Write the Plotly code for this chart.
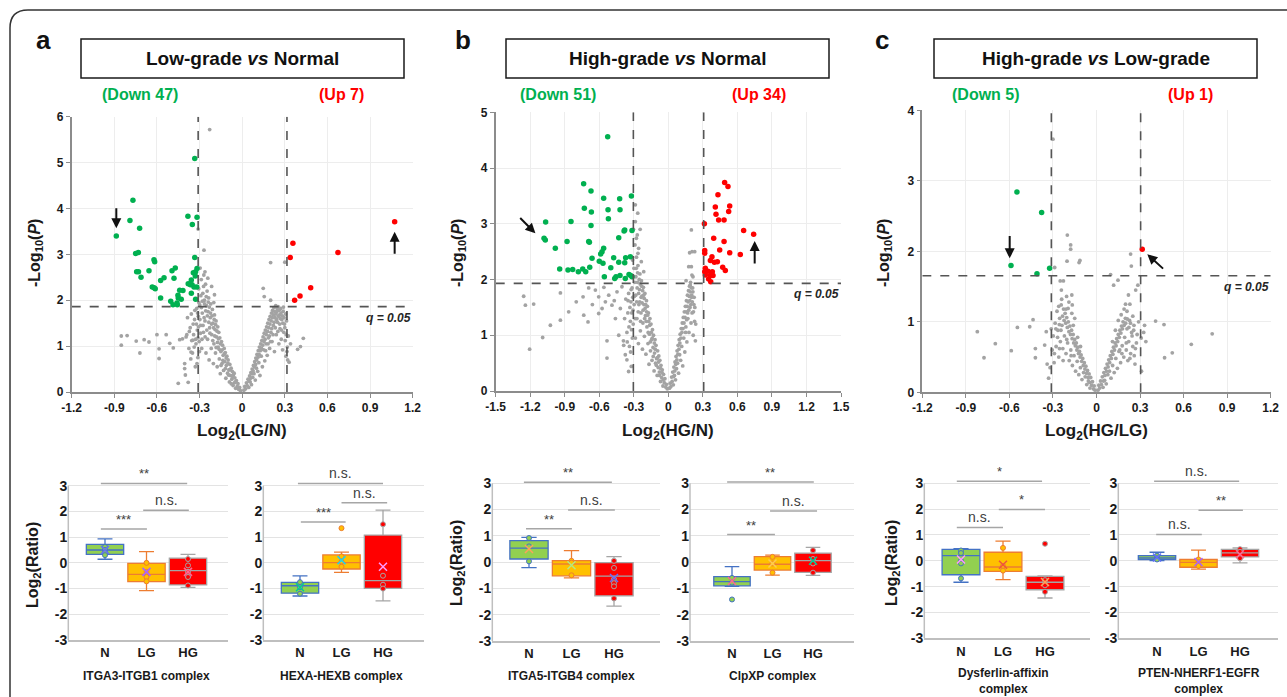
import plotly.graph_objects as go

W, H = 1287, 697
FONT = "Liberation Sans, Arial, sans-serif"
GREEN, RED, GREY = "#00b050", "#ff0000", "#a3a3a3"

# ---------------- volcano data: (log2 ratio, -log10 P) ----------------
down_a = [(-0.886, 3.40), (-0.769, 4.18), (-0.790, 3.74), (-0.722, 3.57), (-0.750, 3.02),
          (-0.731, 3.04), (-0.743, 2.62), (-0.712, 2.50), (-0.656, 2.64), (-0.621, 2.88),
          (-0.616, 2.84), (-0.633, 2.29), (-0.612, 2.25), (-0.574, 2.43), (-0.550, 2.49),
          (-0.574, 2.05), (-0.494, 2.64), (-0.471, 2.70), (-0.480, 2.48), (-0.503, 1.98),
          (-0.487, 1.90), (-0.457, 1.90), (-0.452, 2.11), (-0.440, 2.22), (-0.417, 2.21),
          (-0.459, 1.94), (-0.382, 3.83), (-0.351, 3.65), (-0.318, 3.81), (-0.334, 5.09),
          (-0.334, 2.93), (-0.344, 2.60), (-0.328, 2.62), (-0.358, 2.44), (-0.353, 2.34),
          (-0.339, 2.29), (-0.320, 2.29), (-0.358, 2.15), (-0.328, 2.02), (-0.429, 2.02),
          (-0.365, 2.34), (-0.318, 2.69), (-0.330, 2.53), (-0.620, 2.27), (-0.380, 2.36),
          (-0.450, 2.05), (-0.730, 2.62)]
up_a = [(0.357, 3.24), (0.338, 2.93), (0.674, 3.04), (1.073, 3.71), (0.482, 2.27),
        (0.407, 2.09), (0.369, 2.00)]
grey_a = [(-0.012, 0.03), (-0.018, 0.10), (-0.025, 0.06), (-0.030, 0.18), (-0.035, 0.12),
          (-0.041, 0.25), (-0.046, 0.08), (-0.052, 0.31), (-0.055, 0.20), (-0.061, 0.38),
          (-0.064, 0.14), (-0.070, 0.45), (-0.073, 0.28), (-0.078, 0.52), (-0.082, 0.36),
          (-0.087, 0.60), (-0.090, 0.22), (-0.094, 0.48), (-0.099, 0.70), (-0.103, 0.41),
          (-0.108, 0.78), (-0.112, 0.58), (-0.115, 0.30), (-0.119, 0.86), (-0.123, 0.66),
          (-0.127, 0.95), (-0.131, 0.47), (-0.134, 0.80), (-0.138, 1.02), (-0.142, 0.62),
          (-0.146, 1.10), (-0.150, 0.88), (-0.154, 0.40), (-0.158, 1.18), (-0.161, 0.72),
          (-0.165, 1.30), (-0.169, 0.98), (-0.172, 1.42), (-0.176, 0.55), (-0.180, 1.20),
          (-0.184, 1.55), (-0.188, 0.85), (-0.191, 1.36), (-0.195, 1.68), (-0.199, 1.05),
          (-0.203, 0.62), (-0.206, 1.50), (-0.210, 1.80), (-0.214, 1.25), (-0.218, 0.95),
          (-0.221, 1.92), (-0.225, 1.62), (-0.229, 1.40), (-0.233, 0.70), (-0.236, 2.05),
          (-0.240, 1.75), (-0.244, 1.15), (-0.247, 2.20), (-0.251, 1.88), (-0.255, 0.85),
          (-0.258, 2.35), (-0.262, 1.55), (-0.266, 2.00), (-0.270, 2.55), (-0.273, 1.30),
          (-0.277, 2.15), (-0.281, 1.72), (-0.285, 0.95), (-0.288, 2.45), (-0.292, 1.45),
          (-0.296, 2.70), (-0.299, 1.90), (-0.303, 1.10), (-0.306, 2.25), (-0.309, 1.65),
          (-0.312, 0.75), (-0.316, 1.35), (-0.320, 1.82), (-0.325, 1.05), (-0.330, 0.55),
          (-0.335, 1.58), (-0.342, 1.25), (-0.350, 0.85), (-0.358, 1.70), (-0.366, 1.40),
          (-0.375, 0.95), (-0.385, 1.62), (-0.395, 1.20), (-0.215, 2.30), (-0.195, 2.12),
          (-0.262, 2.62), (-0.242, 2.48), (-0.200, 1.95),
          (-0.048, 0.22), (-0.057, 0.41), (-0.066, 0.33), (-0.077, 0.18), (-0.085, 0.49),
          (-0.096, 0.37), (-0.101, 0.63), (-0.113, 0.74), (-0.118, 0.51), (-0.126, 0.83),
          (-0.136, 0.69), (-0.141, 0.92), (-0.149, 0.58), (-0.153, 1.05), (-0.162, 0.93),
          (-0.167, 1.16), (-0.174, 1.08), (-0.178, 1.33), (-0.183, 0.97), (-0.187, 1.47),
          (-0.193, 1.22), (-0.197, 1.58), (-0.201, 1.40), (-0.207, 1.12), (-0.212, 1.66),
          (-0.216, 1.48), (-0.223, 1.72), (-0.227, 1.28), (-0.231, 1.85), (-0.235, 1.52),
          (-0.239, 1.96), (-0.245, 1.66), (-0.249, 1.35), (-0.253, 2.08), (-0.257, 1.77),
          (-0.261, 1.20), (-0.265, 1.92), (-0.268, 1.62), (-0.272, 2.30), (-0.276, 1.45),
          (-0.280, 1.98), (-0.283, 1.15), (-0.287, 1.84), (-0.291, 2.10), (-0.294, 1.28),
          (-0.298, 1.58), (-0.301, 0.88), (-0.305, 1.95), (-0.308, 1.42), (-0.311, 1.18),
          (-0.314, 1.72), (-0.318, 0.62), (-0.322, 1.48), (-0.327, 1.15), (-0.333, 1.78),
          (-0.338, 0.98), (-0.345, 1.48), (-0.355, 1.12), (-0.362, 0.72), (-0.372, 1.32),
          (0.012, 0.04), (0.018, 0.12), (0.024, 0.07), (0.030, 0.20), (0.035, 0.14),
          (0.041, 0.28), (0.046, 0.10), (0.052, 0.35), (0.056, 0.22), (0.061, 0.42),
          (0.065, 0.16), (0.070, 0.50), (0.074, 0.32), (0.079, 0.58), (0.083, 0.40),
          (0.088, 0.66), (0.092, 0.26), (0.096, 0.74), (0.100, 0.52), (0.104, 0.82),
          (0.109, 0.45), (0.113, 0.90), (0.117, 0.64), (0.121, 0.98), (0.125, 0.36),
          (0.130, 1.05), (0.134, 0.78), (0.138, 1.12), (0.142, 0.55), (0.147, 1.20),
          (0.151, 0.92), (0.155, 1.28), (0.159, 0.68), (0.163, 1.35), (0.168, 1.05),
          (0.172, 1.42), (0.176, 0.80), (0.180, 1.50), (0.185, 1.18), (0.189, 1.58),
          (0.193, 0.95), (0.197, 1.65), (0.202, 1.30), (0.206, 1.72), (0.210, 1.10),
          (0.214, 1.78), (0.219, 1.45), (0.223, 1.84), (0.227, 0.88), (0.231, 1.62),
          (0.236, 1.88), (0.240, 1.25), (0.244, 1.75), (0.249, 1.52), (0.253, 1.86),
          (0.258, 1.05), (0.262, 1.68), (0.266, 1.38), (0.270, 1.82), (0.275, 1.15),
          (0.279, 1.58), (0.284, 0.92), (0.288, 1.76), (0.293, 1.30), (0.298, 1.48),
          (0.303, 1.12), (0.308, 0.78), (0.312, 1.55), (0.318, 0.98), (0.325, 1.22),
          (0.330, 0.65), (0.340, 1.05), (0.148, 2.26), (0.155, 2.08), (0.200, 2.82),
          (0.300, 2.83), (0.410, 0.99), (0.430, 1.17), (0.390, 0.93), (0.320, 0.70),
          (0.200, 2.00),
          (0.047, 0.24), (0.058, 0.30), (0.068, 0.40), (0.077, 0.46), (0.086, 0.55),
          (0.094, 0.60), (0.102, 0.70), (0.111, 0.76), (0.119, 0.82), (0.127, 0.90),
          (0.136, 0.95), (0.144, 1.02), (0.153, 1.10), (0.161, 1.15), (0.165, 0.90),
          (0.170, 1.25), (0.178, 1.32), (0.182, 1.05), (0.187, 1.40), (0.191, 1.22),
          (0.195, 1.48), (0.200, 1.10), (0.204, 1.55), (0.208, 1.38), (0.212, 1.62),
          (0.217, 1.25), (0.221, 1.68), (0.225, 1.52), (0.229, 1.75), (0.233, 1.40),
          (0.238, 1.70), (0.242, 1.58), (0.246, 1.82), (0.251, 1.32), (0.255, 1.65),
          (0.260, 1.78), (0.264, 1.48), (0.268, 1.60), (0.273, 1.72), (0.277, 1.35),
          (0.282, 1.66), (0.286, 1.50), (0.290, 1.85), (0.295, 1.62), (0.300, 1.40),
          (0.305, 1.70), (0.310, 1.25), (0.315, 0.88),
          (-0.851, 1.22), (-0.810, 1.23), (-0.851, 1.02), (-0.746, 1.11), (-0.690, 1.14),
          (-0.720, 0.85), (-0.656, 1.09), (-0.600, 1.25), (-0.585, 0.94), (-0.585, 0.73),
          (-0.510, 1.06), (-0.485, 0.96), (-0.535, 1.25), (-0.440, 1.14), (-0.420, 1.16),
          (-0.390, 1.25), (-0.405, 0.62), (-0.405, 0.51), (-0.400, 0.37), (-0.450, 0.19),
          (-0.347, 1.13), (-0.360, 0.87), (-0.380, 0.21), (-0.229, 5.72), (-0.269, 3.09),
          (-0.310, 3.55)]

down_b = [(-0.527, 4.56), (-0.736, 3.72), (-0.672, 3.59), (-0.562, 3.46), (-0.423, 3.45),
          (-0.321, 3.50), (-0.730, 3.28), (-0.669, 3.21), (-0.524, 3.25), (-0.420, 3.25),
          (-0.521, 3.09), (-1.066, 3.03), (-0.846, 3.04), (-0.672, 2.97), (-0.385, 2.87),
          (-0.379, 2.89), (-0.316, 2.88), (-0.431, 2.75), (-1.080, 2.74), (-1.069, 2.71),
          (-0.880, 2.68), (-0.692, 2.68), (-0.686, 2.67), (-0.982, 2.56), (-0.562, 2.56),
          (-0.576, 2.50), (-0.588, 2.46), (-0.663, 2.38), (-0.475, 2.39), (-0.431, 2.31),
          (-0.379, 2.30), (-0.371, 2.39), (-0.330, 2.41), (-0.568, 2.29), (-0.944, 2.19),
          (-0.872, 2.17), (-0.831, 2.18), (-0.782, 2.14), (-0.744, 2.19), (-0.718, 2.14),
          (-0.683, 2.22), (-0.556, 2.05), (-0.466, 2.02), (-0.455, 2.05), (-0.420, 2.07),
          (-0.374, 2.02), (-0.342, 2.09), (-0.327, 2.07), (-0.316, 2.05), (-0.600, 2.33),
          (-0.500, 2.21)]
up_b = [(0.489, 3.74), (0.518, 3.67), (0.431, 3.52), (0.408, 3.30), (0.533, 3.32),
        (0.524, 3.22), (0.414, 3.17), (0.437, 3.07), (0.484, 3.07), (0.313, 3.00),
        (0.654, 2.88), (0.741, 2.81), (0.394, 2.74), (0.484, 2.68), (0.446, 2.53),
        (0.533, 2.48), (0.625, 2.45), (0.316, 2.52), (0.316, 2.47), (0.379, 2.41),
        (0.365, 2.34), (0.400, 2.31), (0.426, 2.32), (0.321, 2.20), (0.316, 2.14),
        (0.344, 2.15), (0.382, 2.14), (0.472, 2.22), (0.495, 2.16), (0.365, 2.07),
        (0.388, 2.07), (0.350, 2.01), (0.368, 1.96), (0.321, 2.08)]
grey_b = [(-0.010, 0.04), (-0.017, 0.12), (-0.023, 0.07), (-0.030, 0.22), (-0.036, 0.15),
          (-0.042, 0.30), (-0.047, 0.09), (-0.053, 0.38), (-0.058, 0.24), (-0.064, 0.46),
          (-0.068, 0.17), (-0.074, 0.55), (-0.078, 0.34), (-0.083, 0.63), (-0.088, 0.42),
          (-0.093, 0.72), (-0.097, 0.28), (-0.102, 0.58), (-0.107, 0.82), (-0.111, 0.50),
          (-0.116, 0.92), (-0.120, 0.68), (-0.124, 0.36), (-0.129, 1.00), (-0.133, 0.78),
          (-0.138, 1.10), (-0.142, 0.55), (-0.146, 0.92), (-0.151, 1.20), (-0.155, 0.72),
          (-0.160, 1.30), (-0.164, 1.02), (-0.168, 0.48), (-0.173, 1.40), (-0.177, 0.85),
          (-0.182, 1.52), (-0.186, 1.15), (-0.190, 1.62), (-0.195, 0.66), (-0.199, 1.35),
          (-0.204, 1.75), (-0.208, 0.98), (-0.212, 1.55), (-0.217, 1.86), (-0.221, 1.22),
          (-0.225, 0.75), (-0.230, 1.70), (-0.234, 1.98), (-0.238, 1.40), (-0.243, 1.08),
          (-0.247, 2.10), (-0.251, 1.82), (-0.256, 1.55), (-0.260, 0.85), (-0.264, 2.25),
          (-0.269, 1.95), (-0.273, 1.30), (-0.277, 2.40), (-0.282, 2.05), (-0.286, 0.95),
          (-0.290, 2.62), (-0.295, 1.70), (-0.299, 2.20), (-0.303, 2.90), (-0.307, 1.45),
          (-0.311, 2.35), (-0.315, 1.85), (-0.320, 1.10), (-0.325, 1.60), (-0.330, 1.25),
          (-0.338, 0.80), (-0.345, 1.75), (-0.352, 1.40), (-0.360, 1.05), (-0.370, 1.65),
          (-0.380, 1.30), (-0.390, 0.90), (-0.287, 3.34), (-0.266, 3.19), (-0.287, 3.04),
          (-0.278, 2.74), (-0.258, 2.56), (-0.264, 2.47), (-0.235, 2.32), (-0.214, 2.14),
          (-0.245, 2.90), (-0.270, 2.80),
          (-0.045, 0.20), (-0.055, 0.33), (-0.066, 0.40), (-0.076, 0.28), (-0.085, 0.52),
          (-0.095, 0.60), (-0.104, 0.46), (-0.114, 0.75), (-0.122, 0.86), (-0.131, 0.62),
          (-0.140, 0.95), (-0.148, 1.05), (-0.157, 0.88), (-0.162, 1.18), (-0.171, 1.25),
          (-0.175, 1.05), (-0.180, 1.36), (-0.188, 1.42), (-0.192, 1.25), (-0.197, 1.55),
          (-0.202, 1.48), (-0.206, 1.30), (-0.210, 1.66), (-0.215, 1.72), (-0.219, 1.45),
          (-0.223, 1.80), (-0.228, 1.58), (-0.232, 1.88), (-0.236, 1.68), (-0.241, 1.25),
          (-0.245, 1.92), (-0.249, 1.60), (-0.253, 2.00), (-0.258, 1.75), (-0.262, 1.42),
          (-0.267, 2.12), (-0.271, 1.85), (-0.275, 1.60), (-0.279, 2.20), (-0.284, 1.72),
          (-0.288, 1.30), (-0.292, 1.95), (-0.297, 1.55), (-0.301, 2.05), (-0.305, 1.20),
          (-0.309, 1.68), (-0.313, 0.95), (-0.318, 1.40), (-0.323, 1.82), (-0.328, 0.70),
          (-0.334, 1.50), (-0.342, 1.15), (-0.350, 1.62), (-0.357, 0.88),
          (-1.257, 1.70), (-1.242, 1.54), (-1.170, 1.56), (-1.205, 0.75), (-1.092, 0.96),
          (-1.025, 1.18), (-0.938, 1.27), (-0.938, 1.76), (-0.866, 1.42), (-0.741, 1.69),
          (-0.698, 1.24), (-0.735, 1.36), (-0.692, 1.85), (-0.634, 1.81), (-0.605, 1.69),
          (-0.605, 1.39), (-0.576, 1.48), (-0.547, 1.60), (-0.518, 1.72), (-0.533, 0.90),
          (-0.533, 0.59), (-0.490, 1.54), (-0.460, 1.30), (-0.446, 1.78), (-0.403, 1.87),
          (-0.417, 1.48), (-0.431, 1.00), (-0.388, 0.82), (-0.374, 0.65), (-0.360, 0.56),
          (-0.345, 0.35), (-0.322, 0.44), (-0.470, 1.62), (-0.560, 1.86), (-0.660, 1.55),
          (-0.800, 1.60),
          (0.010, 0.05), (0.016, 0.14), (0.022, 0.08), (0.028, 0.25), (0.033, 0.17),
          (0.038, 0.34), (0.043, 0.11), (0.048, 0.43), (0.053, 0.28), (0.058, 0.52),
          (0.062, 0.20), (0.067, 0.62), (0.071, 0.40), (0.076, 0.72), (0.080, 0.50),
          (0.085, 0.82), (0.089, 0.32), (0.094, 0.92), (0.098, 0.65), (0.103, 1.02),
          (0.107, 0.55), (0.112, 1.12), (0.116, 0.80), (0.121, 1.22), (0.125, 0.45),
          (0.130, 1.32), (0.134, 0.95), (0.139, 1.42), (0.143, 0.70), (0.148, 1.52),
          (0.152, 1.15), (0.157, 1.62), (0.161, 0.88), (0.166, 1.72), (0.170, 1.30),
          (0.175, 1.80), (0.179, 1.05), (0.184, 1.88), (0.188, 1.50), (0.193, 1.95),
          (0.197, 1.22), (0.202, 1.68), (0.206, 1.40), (0.211, 1.85), (0.216, 1.00),
          (0.222, 1.55), (0.228, 1.25), (0.235, 0.90), (0.200, 2.89), (0.206, 2.50),
          (0.185, 2.48), (0.229, 2.50), (0.177, 2.23), (0.200, 2.23), (0.214, 2.05),
          (0.154, 1.98), (0.205, 2.08), (0.190, 1.90),
          (0.046, 0.26), (0.056, 0.36), (0.065, 0.48), (0.074, 0.56), (0.083, 0.66),
          (0.092, 0.75), (0.100, 0.86), (0.109, 0.95), (0.118, 1.05), (0.127, 1.12),
          (0.136, 1.22), (0.145, 1.32), (0.150, 1.05), (0.155, 1.42), (0.159, 1.28),
          (0.163, 1.52), (0.168, 1.40), (0.172, 1.60), (0.177, 1.45), (0.181, 1.70),
          (0.186, 1.62), (0.190, 1.78), (0.195, 1.55), (0.199, 1.85), (0.203, 1.72),
          (0.208, 1.60), (0.213, 1.78), (0.218, 1.42), (0.224, 1.68), (0.230, 1.50),
          (0.238, 1.20)]

down_c = [(-0.548, 2.84), (-0.378, 2.55), (-0.589, 1.80), (-0.410, 1.68), (-0.323, 1.76)]
up_c = [(0.315, 2.03)]
grey_c = [(-0.010, 0.03), (-0.016, 0.09), (-0.022, 0.05), (-0.028, 0.15), (-0.034, 0.10),
          (-0.040, 0.21), (-0.045, 0.06), (-0.051, 0.26), (-0.056, 0.16), (-0.062, 0.31),
          (-0.067, 0.11), (-0.073, 0.37), (-0.078, 0.22), (-0.084, 0.42), (-0.089, 0.28),
          (-0.095, 0.48), (-0.100, 0.18), (-0.106, 0.53), (-0.111, 0.35), (-0.117, 0.58),
          (-0.122, 0.25), (-0.128, 0.64), (-0.133, 0.44), (-0.139, 0.70), (-0.144, 0.30),
          (-0.150, 0.75), (-0.155, 0.52), (-0.161, 0.82), (-0.166, 0.38), (-0.172, 0.88),
          (-0.177, 0.60), (-0.183, 0.94), (-0.188, 0.45), (-0.194, 1.00), (-0.199, 0.70),
          (-0.205, 1.06), (-0.210, 0.55), (-0.216, 1.12), (-0.221, 0.80), (-0.227, 1.18),
          (-0.232, 0.62), (-0.238, 0.95), (-0.243, 1.24), (-0.249, 0.72), (-0.254, 1.05),
          (-0.260, 0.50), (-0.266, 0.88), (-0.272, 1.15), (-0.278, 0.65), (-0.285, 0.98),
          (-0.292, 0.42), (-0.298, 0.80), (-0.305, 0.60), (-0.312, 0.90), (-0.320, 0.35),
          (-0.048, 0.14), (-0.058, 0.21), (-0.069, 0.27), (-0.080, 0.33), (-0.091, 0.38),
          (-0.102, 0.44), (-0.113, 0.50), (-0.124, 0.55), (-0.135, 0.60), (-0.146, 0.66),
          (-0.157, 0.70), (-0.168, 0.76), (-0.179, 0.82), (-0.190, 0.86), (-0.201, 0.92),
          (-0.212, 0.98), (-0.223, 1.02), (-0.234, 1.08), (-0.245, 0.88), (-0.256, 0.96),
          (-0.268, 0.78), (-0.280, 0.90), (-0.150, 1.05), (-0.170, 1.12), (-0.190, 1.28),
          (-0.210, 1.18), (-0.240, 1.32), (-0.260, 1.22), (-0.175, 0.52), (-0.205, 0.75),
          (-0.230, 0.45), (-0.255, 0.62), (-0.290, 0.55), (-0.130, 0.78), (-0.110, 0.65),
          (-0.160, 0.95),
          (-0.300, 3.59), (-0.201, 2.23), (-0.178, 2.09), (-0.178, 2.03), (-0.203, 1.86),
          (-0.114, 1.87), (-0.120, 1.84), (-0.288, 1.77), (0.097, 1.67), (0.235, 1.96),
          (0.240, 1.79), (0.118, 1.52), (0.148, 1.59), (-0.250, 1.58), (-0.228, 1.58),
          (-0.242, 1.45), (-0.206, 1.36), (-0.170, 1.38), (-0.196, 1.19), (-0.167, 1.24),
          (-0.437, 1.03), (-0.460, 0.93), (-0.545, 0.92), (-0.587, 0.59), (-0.697, 0.69),
          (-0.821, 0.86), (-0.775, 0.49), (-0.421, 0.62), (-0.421, 0.49), (-0.346, 0.86),
          (-0.357, 0.67), (0.407, 1.01), (0.465, 0.96), (0.653, 0.68), (0.797, 0.83),
          (0.522, 0.56), (0.469, 0.49), (0.331, 0.95), (0.308, 0.77), (0.220, 1.38),
          (0.285, 1.52), (0.270, 1.45), (0.200, 1.25), (0.325, 0.85), (0.340, 0.72),
          (0.310, 0.30), (-0.340, 0.40), (-0.330, 0.20),
          (0.010, 0.03), (0.016, 0.10), (0.022, 0.06), (0.028, 0.16), (0.034, 0.11),
          (0.040, 0.22), (0.045, 0.07), (0.051, 0.28), (0.056, 0.17), (0.062, 0.34),
          (0.067, 0.12), (0.073, 0.40), (0.078, 0.25), (0.084, 0.46), (0.089, 0.30),
          (0.095, 0.52), (0.100, 0.20), (0.106, 0.58), (0.111, 0.38), (0.117, 0.64),
          (0.122, 0.28), (0.128, 0.70), (0.133, 0.48), (0.139, 0.76), (0.144, 0.34),
          (0.150, 0.82), (0.155, 0.58), (0.161, 0.88), (0.166, 0.42), (0.172, 0.94),
          (0.177, 0.66), (0.183, 1.00), (0.188, 0.50), (0.194, 0.78), (0.199, 1.05),
          (0.205, 0.60), (0.210, 0.90), (0.216, 0.45), (0.222, 0.72), (0.228, 1.02),
          (0.235, 0.55), (0.242, 0.85), (0.250, 0.65), (0.258, 0.95), (0.265, 0.40),
          (0.275, 0.70),
          (0.048, 0.16), (0.058, 0.24), (0.069, 0.30), (0.080, 0.36), (0.091, 0.42),
          (0.102, 0.48), (0.113, 0.54), (0.124, 0.60), (0.135, 0.66), (0.146, 0.72),
          (0.157, 0.78), (0.168, 0.84), (0.179, 0.90), (0.190, 0.95), (0.201, 0.98),
          (0.212, 1.04), (0.223, 0.92), (0.234, 0.98), (0.245, 0.80), (0.256, 0.88),
          (0.268, 0.62), (0.280, 0.82), (0.150, 1.02), (0.170, 1.10), (0.190, 1.18),
          (0.210, 1.15), (0.230, 1.25), (0.250, 1.08), (0.175, 0.55), (0.205, 0.70),
          (0.230, 0.48), (0.260, 0.52), (0.130, 0.88), (0.110, 0.72), (0.160, 0.60),
          (0.290, 1.00)]

# thresholds: (fold-change cut left, right, q = 0.05 line)
cut_a = (-0.31, 0.315, 1.86)
cut_b = (-0.304, 0.307, 1.93)
cut_c = (-0.311, 0.304, 1.654)

xticks_a = [-1.2, -0.9, -0.6, -0.3, 0, 0.3, 0.6, 0.9, 1.2]
xticks_b = [-1.5, -1.2, -0.9, -0.6, -0.3, 0, 0.3, 0.6, 0.9, 1.2, 1.5]
xticks_c = [-1.2, -0.9, -0.6, -0.3, 0, 0.3, 0.6, 0.9, 1.2]
ymax_a, ymax_b, ymax_c = 6, 5, 4

# arrows: (tail, tip)
arrows_a = [((-0.886, 4.04), (-0.886, 3.57)), ((1.073, 2.98), (1.073, 3.49))]
arrows_b = [((-1.300, 3.13), (-1.155, 2.83)), ((0.750, 2.26), (0.750, 2.69))]
arrows_c = [((-0.598, 2.24), (-0.598, 1.90)), ((0.469, 1.735), (0.350, 1.957))]

titles = ["Low-grade <i>vs</i> Normal", "High-grade <i>vs</i> Normal", "High-grade <i>vs</i> Low-grade"]
xlabels = ["Log<sub>2</sub>(LG/N)", "Log<sub>2</sub>(HG/N)", "Log<sub>2</sub>(HG/LG)"]
down_labels = ["(Down 47)", "(Down 51)", "(Down 5)"]
up_labels = ["(Up 7)", "(Up 34)", "(Up 1)"]
letters = ["a", "b", "c"]

# ---------------- box plot data (Log2 ratio) ----------------
groups = ["N", "LG", "HG"]
complexes = ["ITGA3-ITGB1 complex", "HEXA-HEXB complex", "ITGA5-ITGB4 complex",
             "ClpXP complex", "Dysferlin-affixin<br>complex", "PTEN-NHERF1-EGFR<br>complex"]
# per complex: lists over N, LG, HG
box_lo = [[0.14, -1.08, -0.95], [-1.29, -0.37, -1.48], [-0.21, -0.60, -1.67],
          [-0.92, -0.49, -0.50], [-0.83, -0.73, -1.44], [0.01, -0.32, -0.08]]
box_q1 = [[0.33, -0.73, -0.86], [-1.18, -0.24, -0.99], [0.12, -0.52, -1.28],
          [-0.90, -0.30, -0.39], [-0.54, -0.41, -1.12], [0.05, -0.25, 0.15]]
box_med = [[0.50, -0.45, -0.30], [-0.89, 0.01, -0.69], [0.53, -0.07, -0.53],
           [-0.74, -0.08, 0.06], [0.20, -0.24, -0.83], [0.11, -0.06, 0.31]]
box_q3 = [[0.72, -0.02, 0.18], [-0.76, 0.31, 1.08], [0.82, 0.06, -0.02],
          [-0.55, 0.21, 0.34], [0.44, 0.33, -0.60], [0.20, 0.05, 0.44]]
box_hi = [[0.93, 0.44, 0.33], [-0.51, 0.42, 2.05], [0.94, 0.44, 0.21],
          [-0.17, 0.27, 0.56], [0.47, 0.76, -0.58], [0.33, 0.41, 0.50]]
box_mean = [[0.50, -0.35, -0.35], [-0.95, 0.10, -0.15], [0.50, -0.12, -0.60],
            [-0.72, -0.05, 0.05], [0.05, -0.15, -0.82], [0.13, -0.05, 0.25]]
box_pts = [[[0.62, 0.50, 0.40, 0.30], [0.0, -0.35, -0.55, -0.72], [0.15, -0.10, -0.35, -0.55, -0.88]],
           [[-0.75, -0.95, -1.20], [1.35, 0.25, 0.05, -0.15], [1.50, -0.50, -0.85, -1.00]],
           [[0.92, 0.60, 0.03], [0.05, -0.02, -0.50], [0.05, -0.22, -0.65, -0.80, -0.92, -1.38]],
           [[-0.60, -0.78, -1.42], [0.20, -0.05, -0.40], [0.45, 0.12, -0.05, -0.40]],
           [[0.40, 0.30, 0.00, -0.10, -0.68], [0.50, -0.20, -0.38], [0.66, -0.75, -0.95, -1.20]],
           [[0.20, 0.10, 0.05], [0.05, -0.05, -0.20], [0.45, 0.35, 0.10]]]
# significance brackets: (from, to, level, label)
brackets = [[(-0.10, 1.98, 3.09, "**"), (0.92, 2.02, 2.05, "n.s."), (-0.10, 1.01, 1.32, "***")],
            [(-0.05, 2.00, 3.09, "n.s."), (1.00, 2.10, 2.34, "n.s."), (0.02, 1.10, 1.59, "***")],
            [(-0.12, 1.95, 3.04, "**"), (0.92, 2.02, 1.98, "n.s."), (-0.07, 1.01, 1.27, "**")],
            [(-0.12, 2.02, 3.05, "**"), (0.94, 2.10, 1.95, "n.s."), (-0.12, 1.06, 1.05, "**")],
            [(-0.10, 1.93, 3.08, "*"), (0.90, 2.00, 1.99, "*"), (-0.10, 1.00, 1.29, "n.s.")],
            [(-0.07, 1.98, 3.08, "n.s."), (1.00, 2.07, 1.96, "**"), (-0.02, 1.08, 1.02, "n.s.")]]
box_ticks = [-3, -2, -1, 0, 1, 2, 3]

FILL = ["#92d050", "#ffc000", "#ff0000"]
EDGE = ["#4472c4", "#ed7d31", "#a5a5a5"]


def fx(p):
    return p / W


def fy(p):
    return 1 - p / H


def aid(n):
    return "" if n == 1 else str(n)


def label(x, y, text, size, color="#1a1a1a", angle=0):
    return dict(x=fx(x), y=fy(y), xref="paper", yref="paper", text=text, textangle=angle,
                showarrow=False, xanchor="center", yanchor="middle",
                font=dict(size=size, family=FONT, color=color))


fig = go.Figure()
layout = {}
shapes = []
annotations = []
bold = dict(family=FONT, color="#1a1a1a", weight="bold")

# ---------------- volcano panels ----------------
vol = [
    dict(down=down_a, up=up_a, grey=grey_a, cut=cut_a, xt=xticks_a, ymax=ymax_a, arrows=arrows_a,
         px=(71.7, 412.7), py=(392.0, 116.7), box=(81, 404), letter_x=43, ytitle_x=35),
    dict(down=down_b, up=up_b, grey=grey_b, cut=cut_b, xt=xticks_b, ymax=ymax_b, arrows=arrows_b,
         px=(495.7, 841.0), py=(391.0, 112.3), box=(506, 829), letter_x=463, ytitle_x=458),
    dict(down=down_c, up=up_c, grey=grey_c, cut=cut_c, xt=xticks_c, ymax=ymax_c, arrows=arrows_c,
         px=(922.3, 1270.7), py=(392.3, 110.3), box=(934, 1257), letter_x=882, ytitle_x=884),
]
down_x = [140, 558, 986]
up_x = [341, 759, 1190]

for i, v in enumerate(vol):
    n = i + 1
    xa, ya = "x" + aid(n), "y" + aid(n)
    for pts, col, size in [(v["grey"], GREY, 3.8), (v["down"], GREEN, 5.5), (v["up"], RED, 5.5)]:
        fig.add_trace(go.Scatter(x=[p[0] for p in pts], y=[p[1] for p in pts], mode="markers",
                                 marker=dict(color=col, size=size, line=dict(width=0)),
                                 xaxis=xa, yaxis=ya, showlegend=False, hoverinfo="skip"))
    lo, hi = v["xt"][0], v["xt"][-1]
    c0, c1, q = v["cut"]
    dash = dict(color="#555555", width=1.6, dash="dash")
    for cx in (c0, c1):
        fig.add_trace(go.Scatter(x=[cx, cx], y=[0, v["ymax"]], mode="lines", line=dash,
                                 xaxis=xa, yaxis=ya, showlegend=False, hoverinfo="skip"))
    fig.add_trace(go.Scatter(x=[lo, hi], y=[q, q], mode="lines", line=dash,
                             xaxis=xa, yaxis=ya, showlegend=False, hoverinfo="skip"))
    layout["xaxis" + aid(n)] = dict(
        domain=[fx(v["px"][0]), fx(v["px"][1])], range=[lo, hi], anchor=ya,
        tickvals=v["xt"], ticktext=[f"{t:g}" for t in v["xt"]],
        showgrid=True, gridcolor="#ededed", zeroline=False,
        showline=True, linecolor="#8c8c8c", linewidth=1.5,
        ticks="outside", ticklen=4, tickcolor="#8c8c8c",
        tickfont=dict(size=12, **bold))
    layout["yaxis" + aid(n)] = dict(
        domain=[fy(v["py"][0]), fy(v["py"][1])], range=[0, v["ymax"]], anchor=xa,
        tickvals=list(range(0, v["ymax"] + 1)), showgrid=True, gridcolor="#ededed",
        zeroline=False, showline=True, linecolor="#8c8c8c", linewidth=1.5,
        ticks="outside", ticklen=4, tickcolor="#8c8c8c",
        tickfont=dict(size=12, **bold))
    annotations.append(dict(x=hi, y=q, xref=xa, yref=ya, text="<b><i>q = 0.05</i></b>",
                            showarrow=False, xanchor="right", yanchor="top", yshift=-2,
                            font=dict(size=12, family=FONT, color="#262626")))
    for tail, tip in v["arrows"]:
        annotations.append(dict(x=tip[0], y=tip[1], ax=tail[0], ay=tail[1], xref=xa, yref=ya,
                                axref=xa, ayref=ya, text="", showarrow=True, arrowhead=2,
                                arrowsize=1, arrowwidth=2, arrowcolor="#111111"))
    cx = (v["px"][0] + v["px"][1]) / 2
    annotations.append(label(cx, 432, "<b>" + xlabels[i] + "</b>", 17))
    annotations.append(label(v["ytitle_x"], 253, "<b>-Log<sub>10</sub>(<i>P</i>)</b>", 16, angle=-90))
    annotations.append(label(down_x[i], 95, "<b>" + down_labels[i] + "</b>", 16, GREEN))
    annotations.append(label(up_x[i], 95, "<b>" + up_labels[i] + "</b>", 16, RED))
    b0, b1 = v["box"]
    shapes.append(dict(type="rect", xref="paper", yref="paper", x0=fx(b0), x1=fx(b1),
                       y0=fy(78), y1=fy(39), line=dict(color="#1a1a1a", width=1.5)))
    annotations.append(label((b0 + b1) / 2, 58.5, "<b>" + titles[i] + "</b>", 19, "#111111"))
    annotations.append(label(v["letter_x"], 40, "<b>" + letters[i] + "</b>", 26, "#111111"))

# ---------------- box panels ----------------
# pixel positions: axis left, right edge, y(3), y(-3), first centre, spacing, y-title x, y
bpos = [(68.3, 228, 485.7, 640.0, 105, 41.5, 33, 565),
        (263.3, 424, 485.7, 640.0, 300, 41.5, None, None),
        (492.3, 660, 483.3, 641.0, 529, 42.5, 457, 563),
        (690.0, 854, 483.3, 641.0, 732, 40.5, None, None),
        (924.3, 1090, 483.3, 638.3, 961, 42.0, 892, 563),
        (1118.3, 1278, 483.3, 638.3, 1157, 41.5, None, None)]
YTOP = 3.25

for k in range(6):
    n = k + 4
    xa, ya = "x" + aid(n), "y" + aid(n)
    left, right, p3, pm3, c0, sp, ytx, yty = bpos[k]
    per = (pm3 - p3) / 6
    top = p3 - (YTOP - 3) * per
    for g in range(3):
        fig.add_trace(go.Box(
            x=[g], q1=[box_q1[k][g]], median=[box_med[k][g]], q3=[box_q3[k][g]],
            lowerfence=[box_lo[k][g]], upperfence=[box_hi[k][g]],
            fillcolor=FILL[g], line=dict(color=EDGE[g], width=1.3), width=0.9,
            whiskerwidth=0.4, boxpoints=False, xaxis=xa, yaxis=ya,
            showlegend=False, hoverinfo="skip"))
        pts = box_pts[k][g]
        fig.add_trace(go.Scatter(
            x=[g] * len(pts), y=pts, mode="markers",
            marker=dict(symbol="circle", size=5, color=FILL[g], line=dict(color=EDGE[g], width=1)),
            xaxis=xa, yaxis=ya, showlegend=False, hoverinfo="skip"))
        fig.add_trace(go.Scatter(
            x=[g], y=[box_mean[k][g]], mode="markers",
            marker=dict(symbol="x-thin-open", size=8, line=dict(color=EDGE[g], width=1.5)),
            xaxis=xa, yaxis=ya, showlegend=False, hoverinfo="skip"))
    for a0, a1, lvl, lab in brackets[k]:
        fig.add_trace(go.Scatter(x=[a0, a1], y=[lvl, lvl], mode="lines",
                                 line=dict(color="#a6a6a6", width=1.5),
                                 xaxis=xa, yaxis=ya, showlegend=False, hoverinfo="skip"))
        annotations.append(dict(x=(a0 + a1) / 2, y=lvl, xref=xa, yref=ya, text=lab,
                                showarrow=False, xanchor="center", yanchor="bottom",
                                font=dict(size=14 if lab == "n.s." else 13, family=FONT,
                                          color="#404040")))
    xr0 = -(c0 - left) / sp
    xr1 = (right - c0) / sp
    layout["xaxis" + aid(n)] = dict(
        domain=[fx(left), fx(right)], range=[xr0, xr1], anchor=ya,
        tickvals=[0, 1, 2], ticktext=groups, showgrid=False, zeroline=False,
        showline=True, linecolor="#bfbfbf", linewidth=1.5, ticks="",
        tickfont=dict(size=13, **bold))
    layout["yaxis" + aid(n)] = dict(
        domain=[fy(pm3), fy(top)], range=[-3, YTOP], anchor=xa,
        tickvals=box_ticks, ticktext=[str(t) for t in box_ticks],
        showgrid=True, gridcolor="#e3e3e3", gridwidth=1.2, zeroline=False, showline=False,
        ticks="", tickfont=dict(size=14, **bold))
    shapes.append(dict(type="line", xref=xa + " domain", yref="paper", x0=0, x1=0,
                       y0=fy(pm3), y1=fy(p3), line=dict(color="#bfbfbf", width=1.5)))
    two = "<br>" in complexes[k]
    annotations.append(dict(x=1, y=fy(681 if two else 676), xref=xa, yref="paper",
                            text="<b>" + complexes[k] + "</b>", showarrow=False,
                            xanchor="center", yanchor="middle",
                            font=dict(size=12, family=FONT, color="#1a1a1a")))
    if ytx is not None:
        annotations.append(label(ytx, yty, "<b>Log<sub>2</sub>(Ratio)</b>", 16, angle=-90))

# outer rounded frame
shapes.append(dict(type="path", xref="paper", yref="paper",
                   path=f"M {fx(10)},{fy(705)} L {fx(10)},{fy(28)} Q {fx(10)},{fy(10)} "
                        f"{fx(28)},{fy(10)} L {fx(1295)},{fy(10)}",
                   line=dict(color="#333333", width=1.5)))

fig.update_layout(width=W, height=H, margin=dict(l=0, r=0, t=0, b=0, autoexpand=False),
                  paper_bgcolor="white", plot_bgcolor="white",
                  font=dict(family=FONT), shapes=shapes, annotations=annotations, **layout)
# the page body has a default 8px margin; remove it so the figure fills the window exactly
fig.write_html("out.html", config={"displayModeBar": False},
               post_script="document.body.style.margin = '0';")
